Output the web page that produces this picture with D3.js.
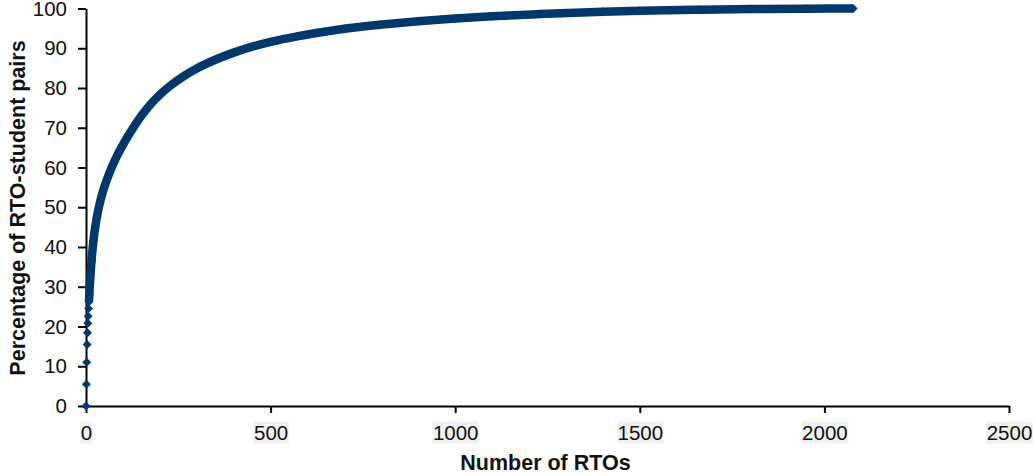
<!DOCTYPE html>
<html>
<head>
<meta charset="utf-8">
<script src="https://cdn.jsdelivr.net/npm/d3@7"></script>
<style>
  body { margin: 0; background: #fff; }
  text { font-family: "Liberation Sans", Arial, sans-serif; }
</style>
</head>
<body>
<script>
//data
const rtoCounts = [0, 1, 2, 3, 4, 5, 6, 7, 8, 9, 10, 12, 15, 20, 25, 30, 40, 50, 60, 70,
    85, 100, 115, 130, 150, 175, 200, 230, 265, 300, 350, 400, 450, 500, 572, 650, 700,
    796, 900, 1000, 1100, 1230, 1400, 1500, 1663, 1800, 1950, 2078];
const pctPairs = [0, 5.5, 11.0, 15.5, 18.4, 20.8, 22.6, 24.5, 26.2, 28.0, 29.8, 32.8, 36.5,
    41.5, 45.0, 47.8, 52.0, 55.2, 57.8, 60.1, 63.1, 65.7, 68.1, 70.3, 73.0, 75.9, 78.3,
    80.7, 83.0, 84.9, 87.1, 88.9, 90.4, 91.6, 93.0, 94.2, 94.9, 95.9, 96.8, 97.5, 98.05,
    98.6, 99.2, 99.45, 99.7, 99.85, 99.95, 100];
const xTicks = [0, 500, 1000, 1500, 2000, 2500];
const yTicks = [0, 10, 20, 30, 40, 50, 60, 70, 80, 90, 100];

const data = rtoCounts.map((d, i) => ({ n: d, pct: pctPairs[i] }));

const width = 1033;
const height = 474;
const plotLeft = 86, plotRight = 1009, plotTop = 8.5, plotBottom = 406;
const navy = "#00386b";

const xScale = d3.scaleLinear().domain([0, 2500]).range([plotLeft, plotRight]);
const yScale = d3.scaleLinear().domain([0, 100]).range([plotBottom, plotTop]);

const svg = d3.select("body").append("svg")
    .attr("width", width)
    .attr("height", height);

//axes
const xAxis = svg.append("g")
    .attr("transform", "translate(0," + plotBottom + ")")
    .call(d3.axisBottom(xScale).tickValues(xTicks).tickFormat(d3.format("d"))
        .tickSize(7).tickSizeOuter(0).tickPadding(12));

const yAxis = svg.append("g")
    .attr("transform", "translate(" + plotLeft + ",0)")
    .call(d3.axisLeft(yScale).tickValues(yTicks).tickFormat(d3.format("d"))
        .tickSize(8).tickSizeOuter(0).tickPadding(11));

[xAxis, yAxis].forEach(g => {
    g.select(".domain").attr("stroke", "#000").attr("stroke-width", 2);
    g.selectAll(".tick line").attr("stroke", "#000").attr("stroke-width", 2);
    g.selectAll(".tick text")
        .attr("fill", "#111")
        .style("font-family", "'Liberation Sans', Arial, sans-serif")
        .style("font-size", "20.5px");
});

//light grey box behind the x tick labels
xAxis.selectAll(".tick").each(function () {
    const t = d3.select(this).select("text");
    const b = t.node().getBBox();
    d3.select(this).insert("rect", "text")
        .attr("x", b.x - 0.5)
        .attr("y", b.y + 1)
        .attr("width", b.width + 1)
        .attr("height", b.height - 1)
        .attr("fill", "#eff1ef");
});

//curve (dense part drawn as a band) + diamond markers
const line = d3.line()
    .x(d => xScale(d.n))
    .y(d => yScale(d.pct))
    .curve(d3.curveMonotoneX);

svg.append("path")
    .datum(data.filter(d => d.n >= 8))
    .attr("d", line)
    .attr("fill", "none")
    .attr("stroke", navy)
    .attr("stroke-width", 8.5);

const s = 4.5;
svg.selectAll("path.marker")
    .data(data)
    .enter()
    .append("path")
    .attr("class", "marker")
    .attr("d", "M0," + (-s) + "L" + s + ",0L0," + s + "L" + (-s) + ",0Z")
    .attr("transform", d => "translate(" + xScale(d.n) + "," + yScale(d.pct) + ")")
    .attr("fill", navy);

//axis titles
svg.append("text")
    .attr("x", (plotLeft + plotRight) / 2 - 2)
    .attr("y", 470)
    .attr("text-anchor", "middle")
    .attr("font-weight", "bold")
    .attr("font-size", "21.5px")
    .attr("fill", "#111")
    .text("Number of RTOs");

svg.append("text")
    .attr("transform", "translate(25," + 208 + ") rotate(-90)")
    .attr("text-anchor", "middle")
    .attr("font-weight", "bold")
    .attr("font-size", "21.5px")
    .attr("fill", "#111")
    .text("Percentage of RTO-student pairs");
</script>
</body>
</html>
